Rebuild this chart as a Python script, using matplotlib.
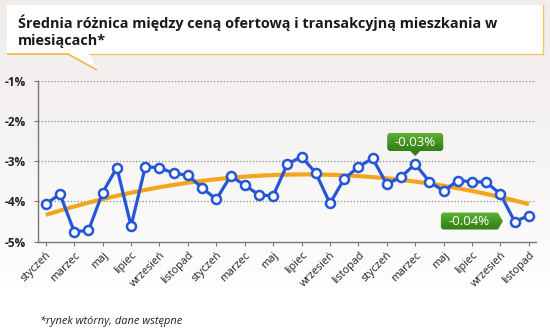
import numpy as np
import matplotlib
matplotlib.use("Agg")
import matplotlib.pyplot as plt
from matplotlib.patches import Polygon
from matplotlib.colors import LinearSegmentedColormap

plt.rcParams['font.family'] = ['Open Sans', 'DejaVu Sans']

# dane
title_lines = ["Średnia różnica między ceną ofertową i transakcyjną mieszkania w", "miesiącach*"]
footnote = "*rynek wtórny, dane wstępne"
month_labels = ["styczeń", "marzec", "maj", "lipiec", "wrzesień", "listopad"] * 3
values = [-4.06, -3.82, -4.75, -4.72, -3.78, -3.16, -4.61, -3.14, -3.16, -3.30,
          -3.35, -3.66, -3.95, -3.37, -3.59, -3.84, -3.86, -3.07, -2.89, -3.29,
          -4.05, -3.44, -3.14, -2.93, -3.57, -3.39, -3.07, -3.51, -3.74, -3.48,
          -3.51, -3.52, -3.82, -4.50, -4.35]
y_ticks = [-1, -2, -3, -4, -5]
y_tick_labels = ["-1%", "-2%", "-3%", "-4%", "-5%"]
callout_idx = [26, 34]
callout_text = ["-0.03%", "-0.04%"]

W, H = 550, 336
fig = plt.figure(figsize=(W / 100, H / 100), dpi=100)
fig.patch.set_facecolor("white")

# tlo w pikselach
bg = fig.add_axes([0, 0, 1, 1], zorder=0)
bg.set_xlim(0, W)
bg.set_ylim(H, 0)
bg.axis("off")
grad_cm = LinearSegmentedColormap.from_list("bg", ["#efecea", "#f6f4f3", "#fefefe"])
bg.imshow(np.linspace(0, 1, 100).reshape(-1, 1), cmap=grad_cm, aspect="auto",
          extent=(0, W, 288, 0), zorder=0)

# dymek z tytulem
bubble = Polygon([(7, 5), (543, 5), (543, 54), (90, 54), (97, 70), (68, 54), (7, 54)],
                 closed=True, facecolor="white", edgecolor="none", zorder=1)
bg.add_patch(bubble)
bg.plot([7, 68, 97], [54, 54, 70], color="#f2b544", lw=1.2, zorder=2, solid_capstyle="butt")
bg.plot([90, 543, 543], [54, 54, 5], color="#f5c46a", lw=1.0, zorder=2)
for i, line in enumerate(title_lines):
    bg.text(18, 28 + 17 * i, line, fontsize=10.4, fontweight="bold", color="#1a1a1a",
            va="baseline", ha="left", zorder=3)
bg.text(40, 321, footnote, fontsize=7.9, style="italic", color="#222222",
        va="center", ha="left")

# wykres
ax = fig.add_axes([38 / W, 1 - 241.7 / H, (536 - 38) / W, (241.7 - 80.7) / H], zorder=2)
ax.patch.set_alpha(0)
x = np.arange(len(values))
ax.set_xlim(-0.55, len(values) - 0.5)
ax.set_ylim(-5, -1)

for yv in y_ticks[:-1]:
    ax.axhline(yv, color="#8a8a8a", lw=0.9, ls=(0, (1, 1.6)), zorder=1)

trend = np.poly1d(np.polyfit(x, values, 2))
xt = np.linspace(0, len(values) - 1, 200)
ax.plot(xt, trend(xt), color="#f4a51f", lw=3.0, zorder=3, solid_capstyle="butt")
ax.plot(x, values, color="#2456d6", lw=2.3, marker="o", ms=6.5, mfc="white",
        mec="#2456d6", mew=1.8, zorder=4)

for s in ["top", "right"]:
    ax.spines[s].set_visible(False)
for s in ["left", "bottom"]:
    ax.spines[s].set_color("#777777")
    ax.spines[s].set_linewidth(1.0)

ax.set_yticks(y_ticks)
ax.set_yticklabels(y_tick_labels, fontsize=8.5, fontweight="bold", color="#222222")
ax.tick_params(axis="y", length=3, color="#777777", pad=6)
ax.set_xticks(x[::2])
ax.set_xticklabels(month_labels, fontsize=7.8, color="#222222", rotation=45,
                   ha="right", va="top", rotation_mode="anchor")
ax.tick_params(axis="x", length=3, color="#777777", pad=3)

# dymki z wartosciami
ov = fig.add_axes([0, 0, 1, 1], zorder=5)
ov.set_xlim(0, W)
ov.set_ylim(H, 0)
ov.axis("off")
fig.canvas.draw()
green_cm = LinearSegmentedColormap.from_list("g", ["#62b236", "#3a8a1a", "#2c7410"])


def to_px(i):
    px, py = ax.transData.transform((x[i], values[i]))
    return px, H - py


def callout(verts, box, text):
    x0, x1, y0, y1 = box
    patch = Polygon(verts, closed=True, facecolor="none", edgecolor="none")
    ov.add_patch(patch)
    im = ov.imshow(np.linspace(0, 1, 50).reshape(-1, 1), cmap=green_cm, aspect="auto",
                   extent=(x0 - 1, x1 + 10, y1 + 8, y0 - 1), zorder=6)
    im.set_clip_path(patch)
    ov.text((x0 + x1) / 2, (y0 + y1) / 2 + 0.5, text, color="white", fontsize=9.5,
            ha="center", va="center", zorder=7)


# nad punktem
px, py = to_px(callout_idx[0])
tip_y = py - 8
bx0, bx1, by0, by1 = px - 28, px + 28, tip_y - 23, tip_y - 5
r = 2
verts = [(bx0 + r, by0), (bx1 - r, by0), (bx1, by0 + r), (bx1, by1 - r), (bx1 - r, by1),
         (px + 5, by1), (px, tip_y), (px - 5, by1), (bx0 + r, by1), (bx0, by1 - r),
         (bx0, by0 + r)]
callout(verts, (bx0, bx1, by0, by1), callout_text[0])

# z lewej strony punktu
px, py = to_px(callout_idx[1])
tip_x = px - 26
by0, by1 = py - 3, py + 14
bx1 = tip_x - 5
bx0 = bx1 - 57
cy = (by0 + by1) / 2
verts = [(bx0 + r, by0), (bx1, by0), (tip_x, cy), (bx1, by1), (bx0 + r, by1),
         (bx0, by1 - r), (bx0, by0 + r)]
callout(verts, (bx0, bx1, by0, by1), callout_text[1])

fig.savefig("out.png", dpi=100)
